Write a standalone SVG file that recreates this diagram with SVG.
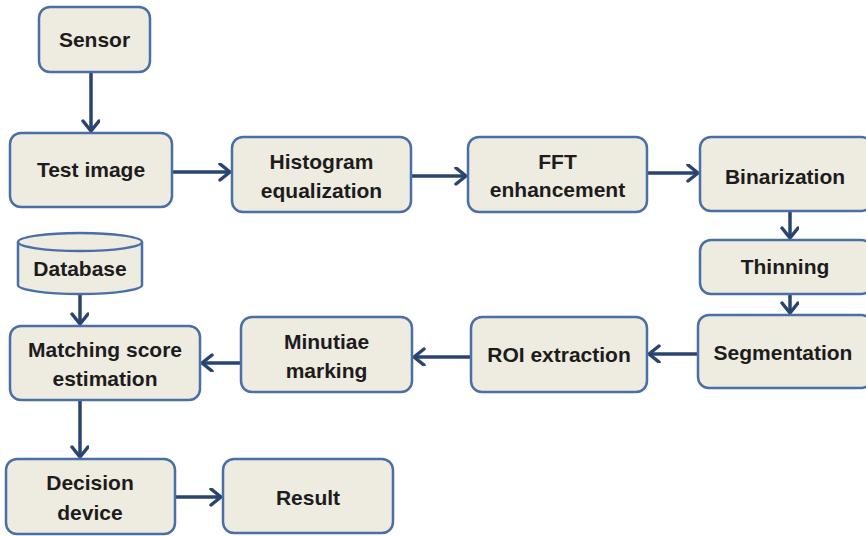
<svg xmlns="http://www.w3.org/2000/svg" width="866" height="536" viewBox="0 0 866 536">
  <style>
    .box { fill: #EEEBE0; stroke: #4A6FA5; stroke-width: 2.5; }
    .lbl { font-family: "Liberation Sans", Arial, sans-serif; font-weight: bold; font-size: 21px; fill: #1C1C1C; text-anchor: middle; }
    .edge { stroke: #2A4470; stroke-width: 3.5; fill: none; marker-end: url(#chev); }
  </style>
  <defs>
    <marker id="chev" markerUnits="userSpaceOnUse" markerWidth="16" markerHeight="20" refX="12" refY="9" orient="auto">
      <path d="M2,1 L12,9 L2,17" fill="none" stroke="#2A4470" stroke-width="3.5" stroke-linecap="round" stroke-linejoin="round"/>
    </marker>
  </defs>
  <rect width="866" height="536" fill="#FFFFFF"/>

  <g id="connectors">
    <line class="edge" x1="91" y1="73" x2="91" y2="131"/>
    <line class="edge" x1="173" y1="172" x2="230" y2="172"/>
    <line class="edge" x1="411" y1="176" x2="466" y2="176"/>
    <line class="edge" x1="647" y1="173" x2="698" y2="173"/>
    <line class="edge" x1="790" y1="211" x2="790" y2="238"/>
    <line class="edge" x1="790" y1="294" x2="790" y2="313"/>
    <line class="edge" x1="698" y1="354" x2="649" y2="354"/>
    <line class="edge" x1="471" y1="357" x2="414" y2="357"/>
    <line class="edge" x1="241" y1="363" x2="202" y2="363"/>
    <line class="edge" x1="80" y1="293" x2="80" y2="324"/>
    <line class="edge" x1="80" y1="400" x2="80" y2="457"/>
    <line class="edge" x1="175" y1="497" x2="221" y2="497"/>
  </g>

  <g id="sensor">
    <rect class="box" x="39" y="7" width="111" height="65" rx="11"/>
    <text class="lbl" x="94.5" y="47">Sensor</text>
  </g>
  <g id="test-image">
    <rect class="box" x="10" y="133" width="162" height="74" rx="11"/>
    <text class="lbl" x="91" y="177">Test image</text>
  </g>
  <g id="histogram">
    <rect class="box" x="232" y="137" width="179" height="75" rx="11"/>
    <text class="lbl" x="321.5" y="169">Histogram</text>
    <text class="lbl" x="321.5" y="198">equalization</text>
  </g>
  <g id="fft">
    <rect class="box" x="468" y="137" width="179" height="75" rx="11"/>
    <text class="lbl" x="557.5" y="169">FFT</text>
    <text class="lbl" x="557.5" y="197">enhancement</text>
  </g>
  <g id="binarization">
    <rect class="box" x="700" y="137" width="172" height="74" rx="11"/>
    <text class="lbl" x="785" y="184">Binarization</text>
  </g>
  <g id="thinning">
    <rect class="box" x="700" y="240" width="172" height="54" rx="11"/>
    <text class="lbl" x="785" y="274">Thinning</text>
  </g>
  <g id="segmentation">
    <rect class="box" x="698" y="315" width="174" height="73" rx="11"/>
    <text class="lbl" x="783" y="360">Segmentation</text>
  </g>
  <g id="roi">
    <rect class="box" x="471" y="317" width="176" height="75" rx="11"/>
    <text class="lbl" x="559" y="362">ROI extraction</text>
  </g>
  <g id="minutiae">
    <rect class="box" x="241" y="317" width="171" height="75" rx="11"/>
    <text class="lbl" x="326.5" y="349">Minutiae</text>
    <text class="lbl" x="326.5" y="378">marking</text>
  </g>
  <g id="database">
    <path class="box" d="M18,242 L18,285 A62,9 0 0 0 142,285 L142,242 A62,9 0 0 0 18,242 Z"/>
    <path d="M18,242 A62,9 0 0 0 142,242" fill="none" stroke="#4A6FA5" stroke-width="2.5"/>
    <text class="lbl" x="80" y="276">Database</text>
  </g>
  <g id="matching">
    <rect class="box" x="10" y="326" width="190" height="74" rx="11"/>
    <text class="lbl" x="105" y="357">Matching score</text>
    <text class="lbl" x="105" y="386">estimation</text>
  </g>
  <g id="decision">
    <rect class="box" x="6" y="459" width="169" height="75" rx="11"/>
    <text class="lbl" x="90" y="490">Decision</text>
    <text class="lbl" x="90" y="520">device</text>
  </g>
  <g id="result">
    <rect class="box" x="223" y="459" width="170" height="74" rx="11"/>
    <text class="lbl" x="308" y="505">Result</text>
  </g>
</svg>
